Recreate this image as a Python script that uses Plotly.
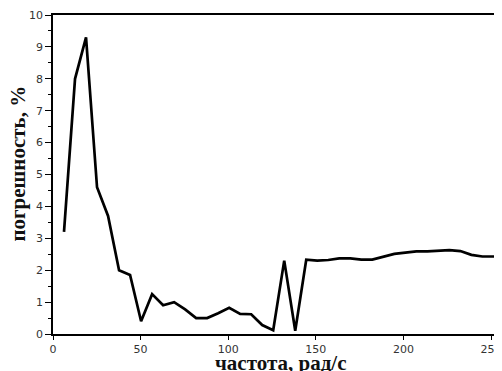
import plotly.graph_objects as go

freq = [6.28, 12.57, 18.85, 25.13, 31.42, 37.70, 43.98, 50.27, 56.55, 62.83,
        69.12, 75.40, 81.68, 87.96, 94.25, 100.53, 106.81, 113.10, 119.38, 125.66,
        131.95, 138.23, 144.51, 150.80, 157.08, 163.36, 169.65, 175.93, 182.21, 188.50,
        194.78, 201.06, 207.35, 213.63, 219.91, 226.19, 232.48, 238.76, 245.04, 251.33,
        257.61]
error = [3.2, 8.0, 9.3, 4.6, 3.7, 2.0, 1.85, 0.4, 1.25, 0.9,
         1.0, 0.77, 0.5, 0.5, 0.65, 0.82, 0.63, 0.62, 0.28, 0.12,
         2.3, 0.1, 2.33, 2.3, 2.32, 2.37, 2.37, 2.33, 2.33, 2.43,
         2.51, 2.55, 2.59, 2.59, 2.6, 2.63, 2.6, 2.48, 2.43, 2.43,
         2.43]

x_title = "частота, рад/с"
y_title = "погрешность, %"

fig = go.Figure()
fig.add_trace(go.Scatter(x=freq, y=error, mode="lines",
                         line=dict(color="black", width=2.7), showlegend=False))

tickfont = dict(family="DejaVu Sans", size=11, color="#333333")
titlefont = dict(family="Liberation Serif", size=21, color="#111111")

fig.update_xaxes(range=[0, 252.8], tickvals=[0, 50, 100, 150, 200, 250],
                 showgrid=False, zeroline=False, showline=True, linecolor="black",
                 linewidth=1.5, mirror=True, ticks="outside", ticklen=4,
                 tickwidth=1.2, tickcolor="black", tickfont=tickfont,
                 ticklabeloverflow="allow")
fig.update_yaxes(range=[0, 10], dtick=1, showgrid=False, zeroline=False,
                 showline=True, linecolor="black", linewidth=1.5,
                 ticks="outside", ticklen=6, tickwidth=1.2, tickcolor="black",
                 tickfont=tickfont,
                 minor=dict(dtick=0.5, ticks="outside", ticklen=3,
                            tickwidth=1.2, tickcolor="black"))

fig.add_annotation(text="<b>" + x_title + "</b>", xref="paper", yref="paper",
                   x=0.514, y=-0.047, xanchor="center", yanchor="top",
                   showarrow=False, font=titlefont)
fig.add_annotation(text="<b>" + y_title + "</b>", xref="paper", yref="paper",
                   x=-0.080, y=0.533, xanchor="center", yanchor="middle",
                   textangle=-90, showarrow=False, font=titlefont)

# page body adds an 8px offset, so the figure is 8px smaller on each axis
fig.update_layout(width=494, height=363, margin=dict(l=45, r=0, t=7, b=37),
                  plot_bgcolor="white", paper_bgcolor="white")

fig.write_html("out.html")
